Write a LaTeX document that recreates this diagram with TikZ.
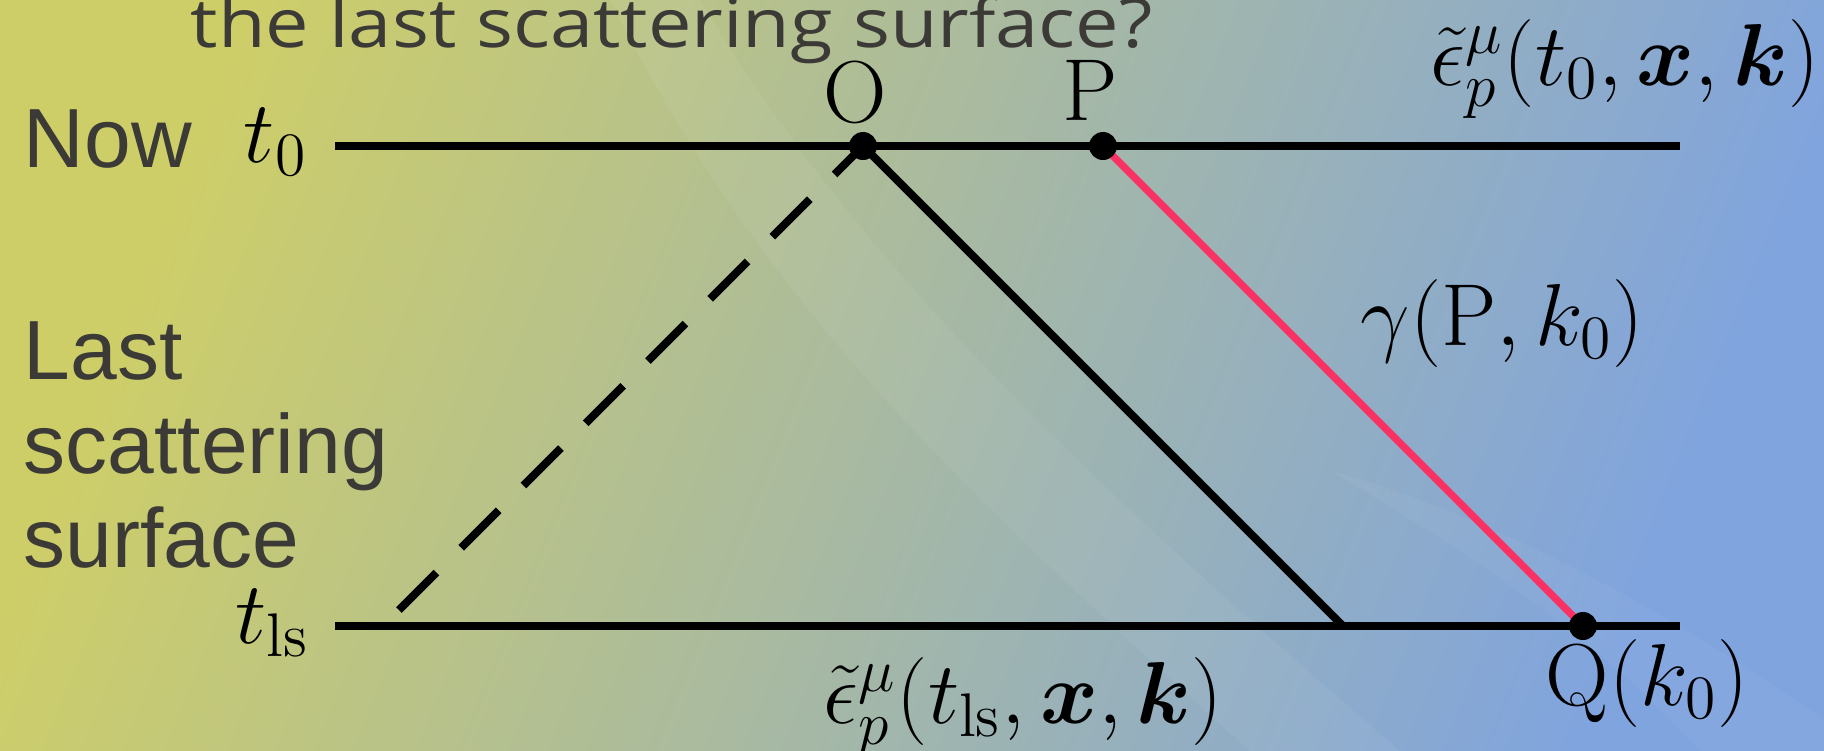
\RequirePackage{fix-cm}
\documentclass[tikz,border=0pt]{standalone}
\usepackage{amsmath,amssymb}
\usepackage{graphicx}
\usepackage[no-math]{fontspec}
\newfontfamily\slidefont{Liberation Sans}
\newfontfamily\askfont{Open Sans}
\definecolor{bgleft}{RGB}{206,206,104}
\definecolor{bgmid}{RGB}{163,184,160}
\definecolor{bgright}{RGB}{128,164,222}
\definecolor{slidegray}{RGB}{60,58,54}
\definecolor{photonred}{RGB}{250,50,100}

\begin{document}
\begin{tikzpicture}[x=0.25pt,y=-0.25pt,inner sep=0pt,
		dot/.style={circle,fill=black,minimum size=7pt},
		worldline/.style={line width=2pt},
		photon/.style={worldline,draw=photonred,line width=1.8pt},
		past/.style={worldline,dash pattern=on 13.25pt off 8.75pt},
		side/.style={text=slidegray,font=\slidefont\fontsize{21}{23.5}\selectfont,align=left},
		lbl/.style={font=\fontsize{22}{27}\selectfont}]
	
	\shade[left color=bgleft,middle color=bgmid,right color=bgright,shading angle=68] (0,0) rectangle (1824,751);
	\fill[white,opacity=.05] (610,0) .. controls (760,300) and (950,480) .. (1250,751) -- (1400,751) .. controls (1050,450) and (850,250) .. (700,0) -- cycle;
	\fill[white,opacity=.04] (1330,470) .. controls (1500,520) and (1650,600) .. (1824,720) -- (1824,751) -- (1700,751) .. controls (1600,640) and (1480,560) .. (1330,470) -- cycle;
	\useasboundingbox (0,0) rectangle (1824,751);
	
	\coordinate (O) at (863,146);
	\coordinate (P) at (1103,146);
	\coordinate (Q) at (1583,626);
	\coordinate (lsO) at (1343,626);
	\coordinate (lsD) at (399,610);
	\foreach \n/\y in {now/146,ls/626}{
		\coordinate (\n L) at (335,\y);
		\coordinate (\n R) at (1680,\y);
		\draw[worldline] (\n L) -- (\n R);
	}
	
	\draw[worldline] (O) -- (lsO);
	\draw[past] (lsD) -- (O);
	\draw[photon] (P) -- (Q);
	\foreach \p in {O,P,Q}{
		\node[dot] (\p dot) at (\p) {};
	}
	
	\node[anchor=base west,text=slidegray,font=\askfont\fontsize{17}{20}\selectfont] (ask) at (190,47) {\scalebox{1.14}[1]{the last scattering surface?}};
	\node[side,anchor=base west] (now) at (23,167) {Now};
	\node[side,anchor=base west] (lss) at (23,567) {Last\\scattering\\surface};
	\node[lbl,anchor=base east] (tnow) at (308,162) {$t_0$};
	\node[lbl,anchor=base east] (tls) at (310,643) {$t_{\mathrm{ls}}$};
	\node[lbl,anchor=base] (Olab) at (855,122) {$\mathrm{O}$};
	\node[lbl,anchor=base] (Plab) at (1090,120) {$\mathrm{P}$};
	\node[lbl,anchor=base west] (epsnow) at (1430,85) {$\tilde{\epsilon}^{\mu}_{p}(t_0,\boldsymbol{x},\boldsymbol{k})$};
	\node[lbl,anchor=base west] (gam) at (1360,345) {$\gamma(\mathrm{P},k_0)$};
	\node[lbl,anchor=base west] (Qlab) at (1545,705) {$\mathrm{Q}(k_0)$};
	\node[lbl,anchor=base west] (epsls) at (823,723) {$\tilde{\epsilon}^{\mu}_{p}(t_{\mathrm{ls}},\boldsymbol{x},\boldsymbol{k})$};
	
\end{tikzpicture}
\end{document}
